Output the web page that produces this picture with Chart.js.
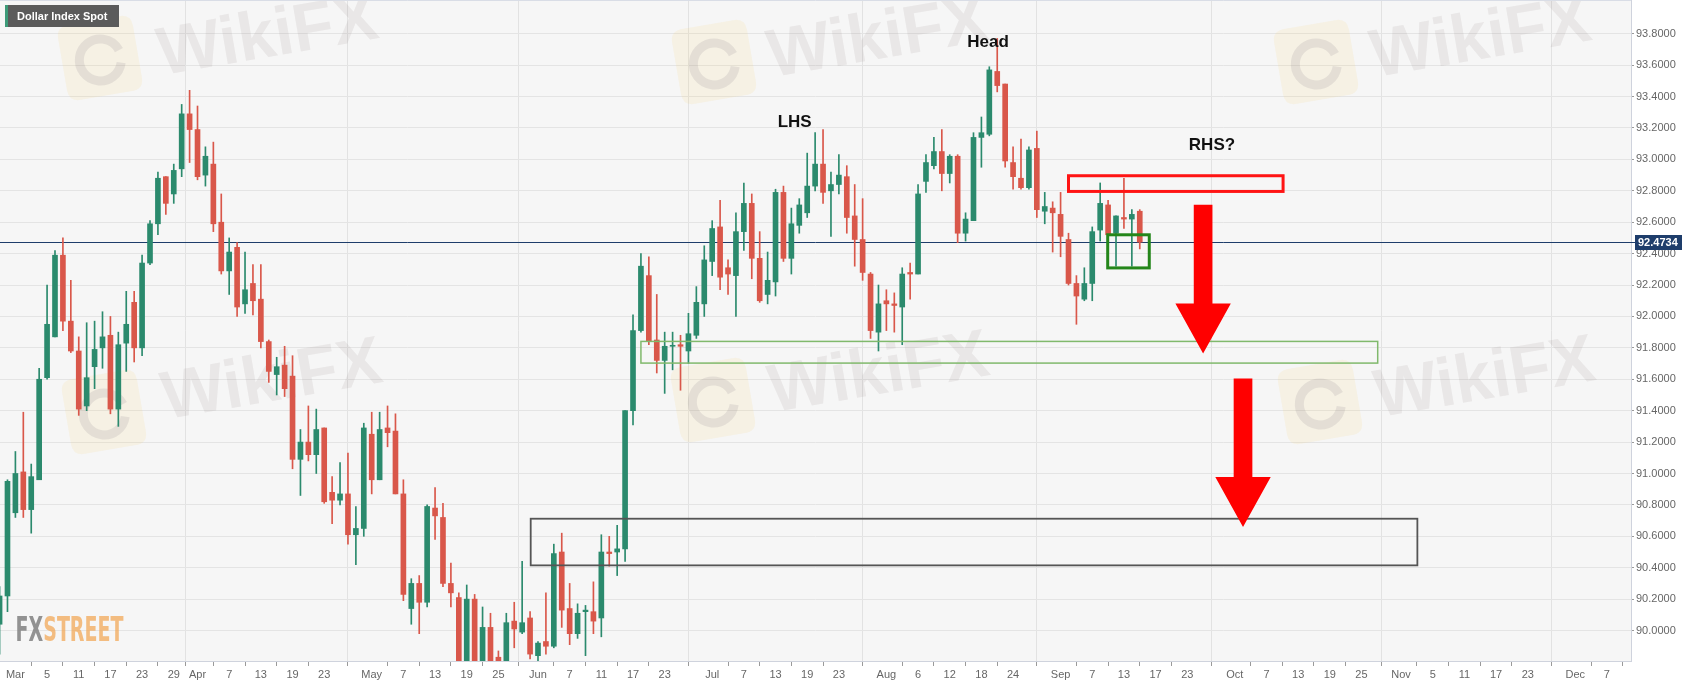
<!DOCTYPE html>
<html><head><meta charset="utf-8">
<script src="https://cdn.jsdelivr.net/npm/chart.js@4.4.0/dist/chart.umd.min.js"></script>
<style>html,body{margin:0;padding:0;background:#fff;overflow:hidden}</style>
</head><body>
<canvas id="c" width="1707" height="687"></canvas>
<script>
// ---- DATA (trading-day index: Mar 1 2021 = 0) ----
const firstIndex = -2;
const openP = [90.04,90.22,90.75,91.01,90.77,90.96,91.61,91.87,92.39,91.97,91.78,91.43,91.68,91.80,91.88,91.41,91.83,92.09,91.80,92.34,
92.59,92.89,92.78,92.94,93.29,93.19,92.90,92.97,92.60,92.29,92.44,92.08,92.21,92.11,91.84,91.63,91.69,91.62,91.09,91.20,
91.12,91.29,90.88,90.83,90.87,90.61,90.65,91.25,90.96,91.29,91.27,90.87,90.14,90.30,90.18,90.78,90.72,90.30,90.21,89.73,
90.20,89.76,90.02,89.83,89.66,90.06,89.99,90.08,89.84,89.93,89.90,90.50,90.14,89.98,90.12,90.12,90.08,90.50,90.50,90.52,
91.40,91.91,92.26,91.85,91.72,91.81,91.82,91.78,91.88,92.08,92.35,92.57,92.31,92.26,92.54,92.72,92.37,92.14,92.22,92.79,
92.37,92.58,92.66,92.83,92.97,92.80,92.84,92.89,92.64,92.49,92.27,91.90,92.10,92.08,92.06,92.28,92.27,92.86,92.96,93.05,
92.91,93.02,92.53,92.61,93.14,93.16,93.56,93.48,92.98,92.88,92.82,93.07,92.67,92.69,92.65,92.49,92.21,92.11,92.21,92.55,
92.71,92.53,92.63,92.62,92.67];
const highP = [90.28,90.96,91.14,91.39,91.06,91.67,92.20,92.42,92.50,92.23,91.87,91.96,91.97,92.03,92.00,91.90,92.16,92.16,92.39,92.61,
92.92,92.89,92.97,93.35,93.44,93.34,93.08,93.11,92.78,92.50,92.47,92.41,92.33,92.33,91.85,91.74,91.81,91.75,91.28,91.43,
91.41,91.29,90.98,91.07,91.13,90.79,91.32,91.39,91.39,91.43,91.38,90.96,90.33,90.35,90.80,90.91,90.81,90.43,90.24,90.29,
90.23,90.15,90.11,89.87,90.11,90.18,90.44,90.12,89.93,90.24,90.55,90.62,90.30,90.17,90.16,90.31,90.61,90.60,90.67,91.40,
92.01,92.40,92.38,92.14,91.90,91.90,91.88,92.02,92.19,92.45,92.61,92.74,92.36,92.66,92.85,92.78,92.54,92.41,92.81,92.83,
92.69,92.75,93.04,93.17,93.19,92.92,93.03,92.96,92.84,92.75,92.28,92.20,92.17,92.15,92.31,92.34,92.84,93.03,93.14,93.19,
93.03,93.03,92.66,93.17,93.27,93.59,93.77,93.48,93.08,93.13,93.08,93.18,92.79,92.73,92.79,92.53,92.26,92.31,92.57,92.85,
92.74,92.64,92.88,92.68,92.68];
const lowP = [89.85,90.12,90.72,90.72,90.62,90.96,91.60,91.87,91.91,91.77,91.37,91.40,91.54,91.67,91.38,91.30,91.65,91.71,91.75,92.33,
92.52,92.65,92.72,92.89,92.98,92.87,92.83,92.54,92.27,92.14,92.00,92.02,92.01,91.80,91.58,91.50,91.49,91.03,90.86,91.08,
91.00,90.81,90.68,90.80,90.55,90.42,90.60,90.87,90.96,91.17,90.87,90.19,90.04,89.98,90.15,90.58,90.28,90.15,89.65,89.65,
89.68,89.68,89.72,89.53,89.60,89.89,89.98,89.82,89.66,89.85,89.89,90.02,89.91,89.95,89.84,89.98,89.96,90.41,90.35,90.44,
91.31,91.90,91.82,91.64,91.51,91.66,91.53,91.70,91.86,92.00,92.26,92.17,92.14,92.00,92.42,92.24,92.09,92.08,92.13,92.35,
92.27,92.53,92.63,92.80,92.72,92.51,92.78,92.53,92.32,92.23,91.86,91.78,91.91,91.90,91.82,92.11,92.27,92.79,92.94,92.80,
92.85,92.47,92.48,92.61,92.95,93.15,93.43,92.95,92.81,92.81,92.81,92.63,92.59,92.41,92.38,92.20,91.95,92.10,92.10,92.48,
92.51,92.32,92.56,92.32,92.43];
const closeP = [90.22,90.95,91.00,90.77,90.98,91.60,91.95,92.39,91.97,91.78,91.41,91.61,91.79,91.87,91.41,91.82,91.95,91.80,92.34,92.59,
92.88,92.72,92.93,93.29,93.19,92.89,93.02,92.59,92.29,92.41,92.06,92.17,92.10,91.84,91.65,91.68,91.54,91.09,91.20,91.12,
91.28,90.82,90.83,90.87,90.61,90.65,91.29,90.96,91.28,91.26,90.87,90.23,90.30,90.18,90.79,90.73,90.30,90.24,89.73,90.20,
89.76,90.02,89.80,89.65,90.05,90.01,90.05,89.85,89.92,89.90,90.49,90.13,89.98,90.11,90.13,90.06,90.50,90.49,90.52,91.40,
91.91,92.32,91.84,91.72,91.81,91.815,91.81,91.89,92.09,92.36,92.56,92.25,92.27,92.54,92.72,92.37,92.10,92.23,92.79,92.37,
92.59,92.71,92.83,92.97,92.79,92.84,92.90,92.63,92.49,92.28,91.91,92.08,92.08,92.07,92.27,92.27,92.78,92.98,93.05,92.91,
93.02,92.53,92.62,93.14,93.17,93.57,93.47,92.99,92.89,92.82,93.06,92.68,92.70,92.66,92.51,92.21,92.13,92.21,92.54,92.72,
92.52,92.64,92.62,92.65,92.4734];
const lastPrice = 92.4734;
const xTickIdx = [0,4,8,12,16,20,23,27,31,35,39,45,49,53,57,61,66,70,74,78,82,88,92,96,100,104,110,114,118,122,126,132,136,140,144,148,154,158,162,166,170,175,179,183,187,191,197,201];
const xTickLbl = ['Mar','5','11','17','23','29','Apr','7','13','19','23','May','7','13','19','25','Jun','7','11','17','23','Jul','7','13','19','23','Aug','6','12','18','24','Sep','7','13','17','23','Oct','7','13','19','25','Nov','5','11','17','23','Dec','7'];
const monthLbl = ['Mar','Apr','May','Jun','Jul','Aug','Sep','Oct','Nov','Dec'];
const yTickVals = [90.0,90.2,90.4,90.6,90.8,91.0,91.2,91.4,91.6,91.8,92.0,92.2,92.4,92.6,92.8,93.0,93.2,93.4,93.6,93.8];

// ---- annotations (in data units) ----
const annBoxes = [
  {x0:133.0, x1:160.1, y0:92.796, y1:92.896, color:'#ff1414', w:3},
  {x0:137.95,x1:143.2, y0:92.309, y1:92.520, color:'#24861a', w:3},
  {x0:79.0,  x1:172.05,y0:91.703, y1:91.841, color:'#80b96c', w:1.5},
  {x0:65.08, x1:177.06,y0:90.415, y1:90.712, color:'#555555', w:1.8}
];
const annArrows = [
  {x:150.0, top:92.711, head:92.083, tip:91.764},
  {x:155.04,top:91.605, head:90.977, tip:90.660}
];
const annTexts = [
  {t:'Head', x:122.83, y:93.747},
  {t:'LHS',  x:98.42,  y:93.237},
  {t:'RHS?', x:151.12, y:93.092}
];

const UP = '#2b8a6d', DOWN = '#d9574a';
const xs = openP.map((_, i) => firstIndex + i);
const colors = xs.map((_, i) => closeP[i] >= openP[i] ? UP : DOWN);
const bodies = xs.map((x, i) => ({x, y:[openP[i], closeP[i]]}));
const wicks  = xs.map((x, i) => ({x, y:[lowP[i], highP[i]]}));

function drawWiki(ctx, lx, ly, tx, ty){
  ctx.save();
  ctx.translate(lx, ly); ctx.rotate(-0.17);
  ctx.fillStyle = 'rgba(246,206,110,0.13)';
  const s = 76, r = 12;
  ctx.beginPath();
  ctx.moveTo(-s/2+r,-s/2); ctx.lineTo(s/2-r,-s/2); ctx.quadraticCurveTo(s/2,-s/2,s/2,-s/2+r);
  ctx.lineTo(s/2,s/2-r); ctx.quadraticCurveTo(s/2,s/2,s/2-r,s/2); ctx.lineTo(-s/2+r,s/2);
  ctx.quadraticCurveTo(-s/2,s/2,-s/2,s/2-r); ctx.lineTo(-s/2,-s/2+r); ctx.quadraticCurveTo(-s/2,-s/2,-s/2+r,-s/2);
  ctx.fill();
  ctx.strokeStyle = 'rgba(110,100,115,0.13)'; ctx.lineWidth = 9;
  ctx.beginPath(); ctx.arc(0,2,21,0.3,Math.PI*1.9); ctx.stroke();
  ctx.restore();
  ctx.save();
  ctx.translate(tx, ty); ctx.rotate(-0.17);
  ctx.font = "bold 68px 'Liberation Sans', Arial, sans-serif";
  const w = ctx.measureText('WikiFX').width;
  ctx.scale(222/w, 1);
  ctx.fillStyle = 'rgba(140,125,125,0.12)';
  ctx.textAlign = 'center'; ctx.textBaseline = 'middle';
  ctx.fillText('WikiFX', 0, 0);
  ctx.restore();
}

const decor = {
  id:'decor',
  beforeDraw(chart){
    const {ctx, chartArea:a} = chart;
    ctx.save();
    ctx.fillStyle = '#ffffff'; ctx.fillRect(0,0,chart.width,chart.height);
    ctx.fillStyle = '#f6f6f6'; ctx.fillRect(a.left,a.top,a.right-a.left,a.bottom-a.top);
    ctx.restore();
  },
  beforeDatasetsDraw(chart){
    const {ctx, chartArea:a, scales:{x, y}} = chart;
    ctx.save();
    ctx.beginPath(); ctx.rect(a.left,a.top,a.right-a.left,a.bottom-a.top); ctx.clip();
    const wm = [[100,58,268,38],[714,62,878,40],[1316,62,1481,40],[104,412,272,382],[713,400,879,375],[1320,402,1485,380]];
    wm.forEach(p => drawWiki(ctx, p[0], p[1], p[2], p[3]));
    // current price line
    const py = Math.round(y.getPixelForValue(lastPrice)) + 0.5;
    ctx.strokeStyle = '#1e3d6b'; ctx.lineWidth = 1;
    ctx.beginPath(); ctx.moveTo(a.left, py); ctx.lineTo(a.right, py); ctx.stroke();
    ctx.restore();
  },
  afterDatasetsDraw(chart){
    const {ctx, chartArea:a, scales:{x, y}} = chart;
    ctx.save();
    ctx.beginPath(); ctx.rect(a.left,a.top,a.right-a.left,a.bottom-a.top); ctx.clip();
    annBoxes.forEach(b => {
      const X0 = x.getPixelForValue(b.x0), X1 = x.getPixelForValue(b.x1);
      const Y0 = y.getPixelForValue(b.y1), Y1 = y.getPixelForValue(b.y0);
      ctx.strokeStyle = b.color; ctx.lineWidth = b.w;
      ctx.strokeRect(X0, Y0, X1-X0, Y1-Y0);
    });
    ctx.fillStyle = '#ff0000';
    annArrows.forEach(ar => {
      const cx = x.getPixelForValue(ar.x);
      const sw = x.getPixelForValue(ar.x + 1.18) - cx;
      const hw = x.getPixelForValue(ar.x + 3.5) - cx;
      const T = y.getPixelForValue(ar.top), H = y.getPixelForValue(ar.head), P = y.getPixelForValue(ar.tip);
      ctx.beginPath();
      ctx.moveTo(cx-sw, T); ctx.lineTo(cx+sw, T); ctx.lineTo(cx+sw, H); ctx.lineTo(cx+hw, H);
      ctx.lineTo(cx, P); ctx.lineTo(cx-hw, H); ctx.lineTo(cx-sw, H); ctx.closePath();
      ctx.fill();
    });
    ctx.fillStyle = '#111';
    ctx.font = "bold 17px 'Liberation Sans', Arial, sans-serif";
    ctx.textAlign = 'center'; ctx.textBaseline = 'middle';
    annTexts.forEach(t => ctx.fillText(t.t, x.getPixelForValue(t.x), y.getPixelForValue(t.y)));
    // FXSTREET logo
    ctx.save();
    ctx.font = "bold 34px 'DejaVu Sans Condensed', 'DejaVu Sans', sans-serif";
    const wFX = ctx.measureText('FX').width, wAll = ctx.measureText('FXSTREET').width;
    ctx.translate(15.5, 641); ctx.scale(108/wAll, 1);
    ctx.textAlign = 'left'; ctx.textBaseline = 'alphabetic';
    ctx.fillStyle = 'rgba(128,128,128,0.85)'; ctx.fillText('FX', 0, 0);
    ctx.fillStyle = 'rgba(242,168,88,0.75)'; ctx.fillText('STREET', wFX, 0);
    ctx.restore();
    ctx.restore();
  },
  afterDraw(chart){
    const {ctx, chartArea:a, scales:{y}} = chart;
    ctx.save();
    // top border
    ctx.strokeStyle = '#d9dde6'; ctx.lineWidth = 1;
    ctx.beginPath(); ctx.moveTo(0, 0.5); ctx.lineTo(a.right, 0.5); ctx.stroke();
    // price label
    const py = Math.round(y.getPixelForValue(lastPrice)) + 0.5;
    ctx.strokeStyle = '#1e3d6b';
    ctx.beginPath(); ctx.moveTo(a.right, py); ctx.lineTo(a.right + 4, py); ctx.stroke();
    ctx.fillStyle = '#1e3d6b';
    ctx.fillRect(a.right + 4, py - 7.5, 47, 15);
    ctx.fillStyle = '#ffffff';
    ctx.font = "bold 11px 'Liberation Sans', Arial, sans-serif";
    ctx.textAlign = 'left'; ctx.textBaseline = 'middle';
    ctx.fillText(lastPrice.toFixed(4), a.right + 7, py + 0.5);
    // title box
    ctx.fillStyle = '#5b5b5b'; ctx.fillRect(5, 5, 114, 22);
    ctx.fillStyle = '#3d9a78'; ctx.fillRect(5, 5, 3, 22);
    ctx.fillStyle = '#ffffff';
    ctx.font = "bold 11px 'Liberation Sans', Arial, sans-serif";
    ctx.fillText('Dollar Index Spot', 17, 16.5);
    ctx.restore();
  }
};

new Chart(document.getElementById('c'), {
  type: 'bar',
  data: {
    datasets: [
      {label:'wick', data: wicks, backgroundColor: colors, barThickness: 1, grouped: false, order: 2, borderWidth: 0, minBarLength: 1},
      {label:'body', data: bodies, backgroundColor: colors, barThickness: 5, grouped: false, order: 1, borderWidth: 0, minBarLength: 1}
    ]
  },
  options: {
    responsive: false,
    animation: false,
    layout: {padding: 0},
    plugins: {legend: {display: false}, tooltip: {enabled: false}},
    scales: {
      x: {
        type: 'linear', min: -1.945, max: 204.04, offset: false,
        afterBuildTicks: s => { s.ticks = xTickIdx.map(v => ({value: v})); },
        afterFit: s => { s.height = 26; s.paddingLeft = 0; s.paddingRight = 0; },
        ticks: {
          autoSkip: false, maxRotation: 0, minRotation: 0, padding: 2,
          color: '#666', font: {family: "'Liberation Sans', Arial, sans-serif", size: 11},
          callback: v => { const k = xTickIdx.indexOf(v); return k >= 0 ? xTickLbl[k] : ''; }
        },
        grid: {
          drawOnChartArea: true, tickLength: 5, tickColor: '#9a9a9a',
          color: c => { const k = xTickIdx.indexOf(c.tick ? c.tick.value : -999); return (k >= 0 && monthLbl.includes(xTickLbl[k])) ? '#e2e2e2' : 'rgba(0,0,0,0)'; }
        },
        border: {color: '#cfd3dd'}
      },
      y: {
        type: 'linear', position: 'right', min: 89.806, max: 94.015,
        afterBuildTicks: s => { s.ticks = yTickVals.map(v => ({value: v})); },
        afterFit: s => { s.width = 76; s.paddingTop = 0; s.paddingBottom = 0; },
        ticks: {
          padding: 2, color: '#666', font: {family: "'Liberation Sans', Arial, sans-serif", size: 11},
          callback: v => Number(v).toFixed(4)
        },
        grid: {color: '#e4e4e4', tickLength: 3, tickColor: '#9a9a9a'},
        border: {color: '#cfd3dd'}
      }
    }
  },
  plugins: [decor]
});
</script>
</body></html>
